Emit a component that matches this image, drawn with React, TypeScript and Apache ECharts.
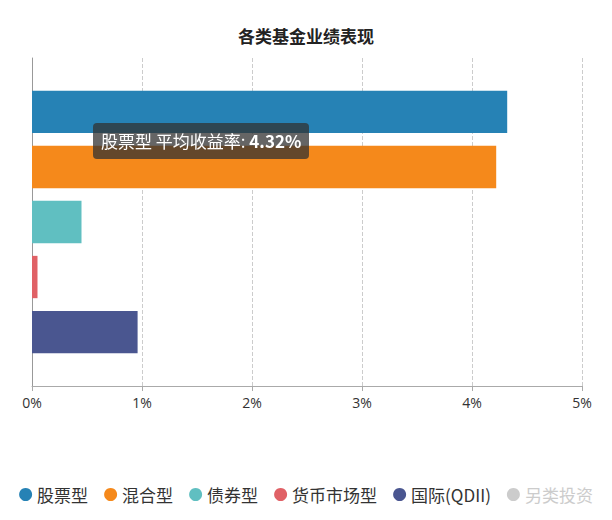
import React, { useEffect, useRef } from "react";
import * as echarts from "echarts";

const categories = ["平均收益率"];
const seriesNames = ["股票型", "混合型", "债券型", "货币市场型", "国际(QDII)", "另类投资"];
const seriesValues = [4.32, 4.22, 0.45, 0.05, 0.96, 1.85];
const colors = ["#2682b5", "#f5891b", "#60bfc1", "#e06166", "#4a5690", "#9a7fd1"];
const xTicks = { min: 0, max: 5, interval: 1 };

const FONT = "'Noto Sans CJK SC', 'Noto Sans', sans-serif";

export default function App() {
  const ref = useRef<HTMLDivElement>(null);
  useEffect(() => {
    if (!ref.current) return;
    document.body.style.margin = "0";
    const chart = echarts.init(ref.current, undefined, { renderer: "svg" });
    const selected: Record<string, boolean> = {};
    seriesNames.forEach((n) => (selected[n] = n !== "另类投资"));
    chart.setOption({
      animation: false,
      color: colors,
      textStyle: { fontFamily: FONT },
      title: {
        text: "各类基金业绩表现",
        left: "center",
        top: 22,
        textStyle: { fontSize: 17, fontWeight: "bold", color: "#222", fontFamily: FONT },
      },
      tooltip: {
        trigger: "item",
        alwaysShowContent: true,
        transitionDuration: 0,
        position: [93, 123],
        backgroundColor: "rgba(50,50,50,0.75)",
        borderWidth: 0,
        borderRadius: 4,
        padding: [5, 8],
        textStyle: { color: "#fff", fontSize: 17, fontFamily: FONT },
        extraCssText: "box-shadow:none;line-height:26px;",
        formatter: (p: any) =>
          `${p.seriesName} ${p.name}: <b>${p.value}%</b>`,
      },
      legend: {
        data: seriesNames,
        selected,
        top: 481,
        left: "center",
        icon: "circle",
        itemWidth: 13,
        itemHeight: 13,
        itemGap: 16,
        textStyle: { fontSize: 17, color: "#333", fontFamily: FONT },
        inactiveColor: "#ccc",
      },
      grid: { left: 32, right: 30, top: 58, bottom: 134 },
      xAxis: {
        type: "value",
        min: xTicks.min,
        max: xTicks.max,
        interval: xTicks.interval,
        axisLine: { show: true, lineStyle: { color: "#aaa" } },
        axisTick: { show: true, lineStyle: { color: "#aaa" } },
        axisLabel: { formatter: "{value}%", color: "#333", fontSize: 14, margin: 9, fontFamily: "'Open Sans', sans-serif" },
        splitLine: { show: true, lineStyle: { type: "dashed", color: "#ccc" } },
      },
      yAxis: {
        type: "category",
        data: categories,
        inverse: true,
        axisLine: { show: true, lineStyle: { color: "#999" } },
        axisTick: { show: false },
        axisLabel: { show: false },
      },
      series: seriesNames.map((name, i) => ({
        name,
        type: "bar",
        barCategoryGap: "20%",
        barGap: "30%",
        data: [seriesValues[i]],
      })),
    });
    chart.dispatchAction({ type: "showTip", seriesIndex: 0, dataIndex: 0 });
    return () => chart.dispose();
  }, []);
  return <div ref={ref} style={{ width: 612, height: 520, background: "#fff" }} />;
}
